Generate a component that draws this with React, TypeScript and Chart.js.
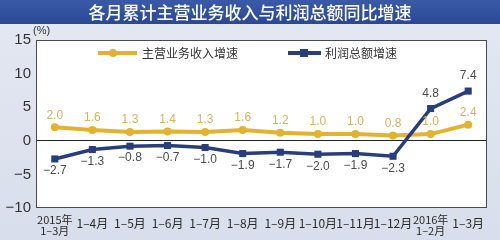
import React, { useEffect, useRef } from "react";
import { Chart, registerables } from "chart.js";

Chart.register(...registerables);

// Periods (cumulative months) shown along the x axis
const periods: (string | string[])[] = [
  ["2015年", "1–3月"], "1–4月", "1–5月", "1–6月", "1–7月", "1–8月",
  "1–9月", "1–10月", "1–11月", "1–12月", ["2016年", "1–2月"], "1–3月",
];
// Year-on-year growth of main business revenue (%)
const revenueGrowth = [2.0, 1.6, 1.3, 1.4, 1.3, 1.6, 1.2, 1.0, 1.0, 0.8, 1.0, 2.4];
// Year-on-year growth of total profit (%)
const profitGrowth = [-2.7, -1.3, -0.8, -0.7, -1.0, -1.9, -1.7, -2.0, -1.9, -2.3, 4.8, 7.4];
const yMin = -10;
const yMax = 15;
const yStep = 5;

const titleText = "各月累计主营业务收入与利润总额同比增速";
const unitText = "(%)";
const revenueName = "主营业务收入增速";
const profitName = "利润总额增速";

const GOLD = "#e3b22f";
const GOLD_LABEL = "#d4b35c";
const NAVY = "#283d7c";
const CJK = "'Noto Sans CJK SC', 'Liberation Sans', sans-serif";
const NUM = "'Liberation Sans', Arial, sans-serif";

const fmt = (v: number) => (v < 0 ? "−" + Math.abs(v).toFixed(1) : v.toFixed(1));

const framePlugin = {
  id: "frame",
  beforeDraw(chart: any) {
    const { ctx, width, height, chartArea: a } = chart;
    ctx.save();
    // page background
    const bg = ctx.createLinearGradient(0, 0, 0, height);
    bg.addColorStop(0, "#e4e8f2");
    bg.addColorStop(1, "#d9deec");
    ctx.fillStyle = bg;
    ctx.fillRect(0, 0, width, height);
    // title bar
    const tb = ctx.createLinearGradient(0, 0, 0, 24);
    tb.addColorStop(0, "#3a5aa8");
    tb.addColorStop(1, "#2a4894");
    ctx.fillStyle = tb;
    ctx.fillRect(0, 0, width, 24);
    ctx.fillStyle = "#ffffff";
    ctx.font = `500 17px ${CJK}`;
    ctx.textAlign = "center";
    ctx.textBaseline = "middle";
    ctx.fillText(titleText, width / 2, 12.5);
    // plot area
    ctx.fillStyle = "#ffffff";
    ctx.fillRect(a.left, a.top, a.right - a.left, a.bottom - a.top);
    // unit
    ctx.fillStyle = "#333";
    ctx.font = `11px ${NUM}`;
    ctx.textAlign = "left";
    ctx.fillText(unitText, a.left - 3, a.top - 9);
    ctx.restore();
  },
  afterDatasetsDraw(chart: any) {
    const { ctx, chartArea: a } = chart;
    ctx.save();
    // border around plot area
    ctx.strokeStyle = "#4a4a4a";
    ctx.lineWidth = 1;
    ctx.strokeRect(a.left + 0.5, a.top + 0.5, a.right - a.left - 1, a.bottom - a.top - 1);

    // value labels
    ctx.font = `12px ${NUM}`;
    ctx.textAlign = "center";
    ctx.textBaseline = "middle";
    chart.data.datasets.forEach((ds: any, di: number) => {
      const meta = chart.getDatasetMeta(di);
      meta.data.forEach((pt: any, i: number) => {
        const v = ds.data[i] as number;
        if (ds.label === revenueName) {
          ctx.fillStyle = GOLD_LABEL;
          ctx.fillText(fmt(v), pt.x, pt.y - 12);
        } else {
          ctx.fillStyle = "#4a4a4a";
          ctx.fillText(fmt(v), pt.x, v < 0 ? pt.y + 12 : pt.y - 15);
        }
      });
    });

    // legend
    const ly = a.top + 13;
    ctx.lineWidth = 4;
    ctx.strokeStyle = GOLD;
    ctx.beginPath();
    ctx.moveTo(a.left + 62, ly);
    ctx.lineTo(a.left + 101, ly);
    ctx.stroke();
    ctx.fillStyle = GOLD;
    ctx.beginPath();
    ctx.arc(a.left + 77, ly, 4, 0, Math.PI * 2);
    ctx.fill();
    ctx.strokeStyle = NAVY;
    ctx.beginPath();
    ctx.moveTo(a.left + 252, ly);
    ctx.lineTo(a.left + 285, ly);
    ctx.stroke();
    ctx.fillStyle = NAVY;
    ctx.fillRect(a.left + 264, ly - 4, 8, 8);
    ctx.fillStyle = "#333";
    ctx.font = `12px ${CJK}`;
    ctx.textAlign = "left";
    ctx.fillText(revenueName, a.left + 106, ly);
    ctx.fillText(profitName, a.left + 289, ly);
    ctx.restore();
  },
};

export default function App() {
  const ref = useRef<HTMLCanvasElement>(null);

  useEffect(() => {
    if (!ref.current) return;
    const chart = new Chart(ref.current, {
      type: "line",
      data: {
        labels: periods as any,
        datasets: [
          {
            label: profitName,
            data: profitGrowth,
            borderColor: NAVY,
            backgroundColor: NAVY,
            borderWidth: 3.5,
            pointStyle: "rect",
            pointRadius: 5,
            pointBorderWidth: 0,
            tension: 0,
            order: 0,
          },
          {
            label: revenueName,
            data: revenueGrowth,
            borderColor: GOLD,
            backgroundColor: GOLD,
            borderWidth: 4,
            pointStyle: "circle",
            pointRadius: 4,
            pointBorderWidth: 0,
            tension: 0,
            order: 1,
          },
        ],
      },
      options: {
        animation: false,
        responsive: false,
        devicePixelRatio: 1,
        layout: { padding: { top: 40, right: 13, left: 0, bottom: 0 } },
        plugins: {
          legend: { display: false },
          title: { display: false },
          tooltip: { enabled: false },
        },
        scales: {
          x: {
            offset: true,
            grid: { display: false },
            border: { display: false },
            afterFit: (s: any) => { s.height = 32; },
            ticks: {
              color: "#2a2a2a",
              padding: 4,
              maxRotation: 0,
              autoSkip: false,
              crossAlign: "center" as any,
              font: (c: any) => {
                const multi = Array.isArray(periods[c.index]);
                return { family: CJK, size: multi ? 11 : 12, lineHeight: multi ? 1.0 : 1.2 };
              },
            },
          },
          y: {
            min: yMin,
            max: yMax,
            grid: {
              drawTicks: false,
              color: (c: any) => (c.tick && c.tick.value === 0 ? "#222" : "rgba(0,0,0,0)"),
              lineWidth: 1,
            },
            border: { display: false },
            afterFit: (s: any) => { s.width = 36; },
            ticks: {
              stepSize: yStep,
              padding: 5,
              color: "#333",
              font: { family: NUM, size: 15 },
              callback: (v: any) => (Number(v) < 0 ? "−" + Math.abs(Number(v)) : String(v)),
            },
          },
        },
      },
      plugins: [framePlugin],
    });
    return () => chart.destroy();
  }, []);

  return (
    <div style={{ position: "fixed", left: 0, top: 0, width: 500, height: 240 }}>
      <canvas ref={ref} width={500} height={240} style={{ width: 500, height: 240, display: "block" }} />
    </div>
  );
}
